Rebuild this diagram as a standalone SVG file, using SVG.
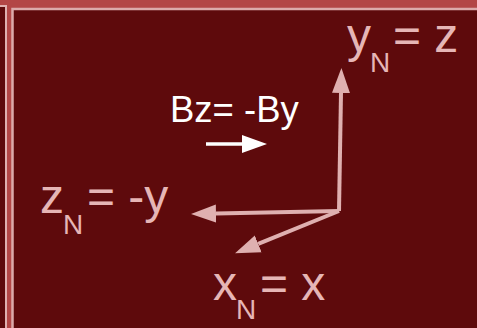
<svg xmlns="http://www.w3.org/2000/svg" width="477" height="328" viewBox="0 0 477 328">
<style>
.lbl{font-family:"Liberation Sans",Arial,sans-serif;fill:#e6b6b6}
.big{font-size:48px}
.sub{font-size:28px}
.wht{font-family:"Liberation Sans",Arial,sans-serif;fill:#ffffff;font-size:36.5px}
.ax{stroke:#dfb0b0;stroke-width:4;fill:none}
</style>
<defs>
<marker id="ph" markerUnits="userSpaceOnUse" markerWidth="26" markerHeight="20" viewBox="0 -10 26 20" refX="0" refY="0" orient="auto">
<path d="M0,-9 L25,0 L0,9 z" fill="#dfb0b0"/>
</marker>
<marker id="wh" markerUnits="userSpaceOnUse" markerWidth="26" markerHeight="20" viewBox="0 -10 26 20" refX="0" refY="0" orient="auto">
<path d="M0,-9 L25,0 L0,9 z" fill="#ffffff"/>
</marker>
</defs>
<rect x="0" y="0" width="477" height="328" fill="#b34646"/>
<rect x="-20" y="6" width="26" height="400" fill="#5e0a0c" stroke="#e0b0b0" stroke-width="2"/>
<rect x="12.5" y="9" width="500" height="400" fill="#5e0a0c" stroke="#dcaaaa" stroke-width="2.5"/>
<g id="connectors">
<line class="ax" x1="339" y1="211" x2="341" y2="93" marker-end="url(#ph)"/>
<line class="ax" x1="339" y1="211" x2="216" y2="213.5" marker-end="url(#ph)"/>
<line class="ax" x1="339" y1="211" x2="258.2" y2="243.8" marker-end="url(#ph)"/>
<line x1="206" y1="144" x2="242" y2="144" stroke="#ffffff" stroke-width="3.5" marker-end="url(#wh)"/>
</g>
<g id="yN">
<text class="lbl big" x="347" y="52">y</text>
<text class="lbl sub" x="370" y="72">N</text>
<text class="lbl big" x="393" y="52">= z</text>
</g>
<g id="zN">
<text class="lbl big" x="40" y="213">z</text>
<text class="lbl sub" x="63" y="234">N</text>
<text class="lbl big" x="87" y="213">= -y</text>
</g>
<g id="xN">
<text class="lbl big" x="213" y="300">x</text>
<text class="lbl sub" x="236" y="319">N</text>
<text class="lbl big" x="260" y="300">= x</text>
</g>
<g id="Bz">
<text class="wht" x="170" y="122">Bz= -By</text>
</g>
</svg>
